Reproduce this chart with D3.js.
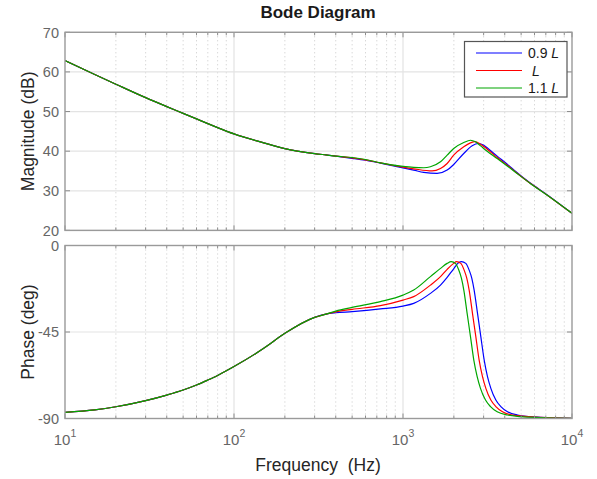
<!DOCTYPE html>
<html>
<head>
<meta charset="utf-8">
<script src="https://cdn.jsdelivr.net/npm/d3@7"></script>
<style>
  body { margin: 0; background: #fff; }
  text { font-family: "Liberation Sans", Arial, sans-serif; }
</style>
</head>
<body>
<svg id="chart" width="597" height="479"></svg>
<script>
// shared low-frequency part (the three curves overlap there)
var freqLow  = [10, 15, 20, 30, 40, 50, 60, 70, 80, 100, 150, 200, 300, 350];
var magLow   = [62.85, 59.35, 56.9, 53.5, 51.25, 49.55, 48.15, 46.95, 45.95, 44.35, 42.1, 40.65, 39.4, 39.05];
var phaseLow = [-86.8, -85.5, -83.9, -80.7, -77.8, -75.2, -72.6, -70, -67.6, -63, -53.5, -45.7, -37.4, -35.7];

// magnitude, per series
var magFreqBlue  = [400, 500, 600, 735, 1000, 1157, 1327, 1592, 1825, 1995, 2288, 2566, 2786, 3008, 3148, 3608, 4137, 4529, 5689, 7145, 10000];
var magBlue      = [38.75, 38.2, 37.7, 36.98, 35.8, 35.22, 34.63, 34.38, 35.22, 36.64, 39.41, 41.34, 41.93, 41.51, 40.84, 38.74, 36.7, 35.25, 31.88, 28.95, 24.3];
var magFreqRed   = [400, 500, 600, 735, 1000, 1157, 1487, 1667, 1825, 1995, 2288, 2507, 2660, 2877, 3148, 3608, 4137, 4529, 5689, 7145, 10000];
var magRed       = [38.75, 38.3, 37.8, 37.06, 35.97, 35.55, 35.0, 35.64, 36.89, 38.99, 41.09, 42.09, 42.43, 41.76, 40.5, 38.4, 36.45, 35.1, 31.82, 28.9, 24.3];
var magFreqGreen = [400, 500, 600, 735, 1000, 1157, 1327, 1453, 1667, 1825, 1995, 2288, 2507, 2686, 2877, 3148, 3608, 4137, 4529, 5689, 7145, 10000];
var magGreen     = [38.75, 38.4, 37.9, 37.06, 36.14, 35.89, 35.81, 36.06, 37.31, 38.99, 40.67, 42.18, 42.76, 42.35, 41.34, 40.0, 38.15, 36.25, 34.99, 31.8, 28.85, 24.3];

// phase, per series
var phFreqBlue  = [400, 500, 735, 1000, 1157, 1453, 1667, 1825, 1995, 2139, 2218, 2353, 2463, 2554, 2636, 2760, 2887, 3023, 3162, 3310, 3543, 3793, 4155, 4763, 6511, 10000];
var phaseBlue   = [-35.0, -34.4, -33.0, -31.5, -30.1, -24.9, -20.6, -16.6, -12.1, -8.9, -8.4, -9.3, -12.8, -17.1, -23.2, -35.3, -47.4, -59.6, -68.2, -74.3, -80.4, -83.8, -86.5, -88.2, -89.4, -89.9];
var phFreqRed   = [400, 500, 735, 1000, 1157, 1453, 1667, 1825, 1995, 2072, 2198, 2301, 2386, 2463, 2577, 2697, 2822, 2954, 3092, 3310, 3543, 3880, 4449, 6511, 10000];
var phaseRed    = [-34.5, -33.2, -31.3, -28.4, -26.6, -20.6, -16.2, -12.4, -9.3, -8.4, -9.3, -12.8, -17.1, -23.2, -35.3, -47.4, -59.6, -68.2, -74.3, -80.4, -83.8, -86.5, -88.2, -89.4, -89.9];
var phFreqGreen = [400, 500, 735, 1000, 1157, 1453, 1667, 1825, 1927, 2044, 2139, 2218, 2290, 2396, 2508, 2624, 2747, 2874, 3078, 3295, 3608, 4136, 4959, 6511, 10000];
var phaseGreen  = [-34.1, -32.2, -29.2, -25.8, -23.2, -16.2, -11.9, -9.3, -8.4, -9.3, -12.8, -17.1, -23.2, -35.3, -47.4, -59.6, -68.2, -74.3, -80.4, -83.8, -86.5, -88.2, -89.0, -89.5, -89.9];

var seriesNames  = ["0.9 ", " ", "1.1 "];   // followed by italic L
var seriesColors = ["#0000ff", "#ff0000", "#00a600"];
var magTicks   = [20, 30, 40, 50, 60, 70];
var phaseTicks = [-90, -45, 0];
var decades    = [10, 100, 1000, 10000];

function pairs(fa, va) { return fa.map(function(f, i){ return [f, va[i]]; }); }
var lowMag = pairs(freqLow, magLow), lowPh = pairs(freqLow, phaseLow);
var magSeries = [
  lowMag.concat(pairs(magFreqBlue, magBlue)),
  lowMag.concat(pairs(magFreqRed, magRed)),
  lowMag.concat(pairs(magFreqGreen, magGreen))
];
var phSeries = [
  lowPh.concat(pairs(phFreqBlue, phaseBlue)),
  lowPh.concat(pairs(phFreqRed, phaseRed)),
  lowPh.concat(pairs(phFreqGreen, phaseGreen))
];

var svg = d3.select("#chart");
svg.append("rect").attr("width", 597).attr("height", 479).attr("fill", "#fff");

var x = d3.scaleLog().domain([10, 10000]).range([65, 572]);
var yMag = d3.scaleLinear().domain([20, 70]).range([230.4, 32.3]);
var yPh  = d3.scaleLinear().domain([-90, 0]).range([418.5, 245.5]);

var minor = [];
decades.slice(0, 3).forEach(function(d){ for (var m = 2; m <= 9; m++) minor.push(d * m); });

function panel(y, ticks, series, id) {
  var g = svg.append("g");
  var x0 = x.range()[0], x1 = x.range()[1];
  var yTop = y.range()[1], yBot = y.range()[0];

  g.selectAll(".minor").data(minor).enter().append("line")
    .attr("x1", function(d){ return x(d); }).attr("x2", function(d){ return x(d); })
    .attr("y1", yTop).attr("y2", yBot)
    .attr("stroke", "#c8c8c8").attr("stroke-width", 1).attr("stroke-dasharray", "1,3");
  g.selectAll(".vgrid").data([100, 1000]).enter().append("line")
    .attr("x1", function(d){ return x(d); }).attr("x2", function(d){ return x(d); })
    .attr("y1", yTop).attr("y2", yBot)
    .attr("stroke", "#e3e3e3").attr("stroke-width", 1.2);
  g.selectAll(".hgrid").data(ticks).enter().append("line")
    .attr("x1", x0).attr("x2", x1)
    .attr("y1", function(d){ return y(d); }).attr("y2", function(d){ return y(d); })
    .attr("stroke", "#e3e3e3").attr("stroke-width", 1.2);

  g.append("clipPath").attr("id", id).append("rect")
    .attr("x", x0).attr("y", yTop).attr("width", x1 - x0).attr("height", yBot - yTop);

  var line = d3.line()
    .x(function(d){ return x(d[0]); })
    .y(function(d){ return y(d[1]); })
    .curve(d3.curveMonotoneX);
  g.append("g").attr("clip-path", "url(#" + id + ")")
    .selectAll("path").data(series).enter().append("path")
    .attr("d", line)
    .attr("fill", "none")
    .attr("stroke", function(d, i){ return seriesColors[i]; })
    .attr("stroke-width", 1.2);

  // ticks inside the box
  var tk = g.append("g").attr("stroke", "#8c8c8c").attr("stroke-width", 1);
  ticks.forEach(function(t){
    tk.append("line").attr("x1", x0).attr("x2", x0 + 5).attr("y1", y(t)).attr("y2", y(t));
    tk.append("line").attr("x1", x1).attr("x2", x1 - 5).attr("y1", y(t)).attr("y2", y(t));
  });
  decades.forEach(function(d){
    tk.append("line").attr("x1", x(d)).attr("x2", x(d)).attr("y1", yBot).attr("y2", yBot - 5);
    tk.append("line").attr("x1", x(d)).attr("x2", x(d)).attr("y1", yTop).attr("y2", yTop + 5);
  });
  minor.forEach(function(d){
    tk.append("line").attr("x1", x(d)).attr("x2", x(d)).attr("y1", yBot).attr("y2", yBot - 3);
    tk.append("line").attr("x1", x(d)).attr("x2", x(d)).attr("y1", yTop).attr("y2", yTop + 3);
  });

  g.append("rect").attr("x", x0).attr("y", yTop)
    .attr("width", x1 - x0).attr("height", yBot - yTop)
    .attr("fill", "none").attr("stroke", "#9a9a9a").attr("stroke-width", 1.4);

  g.selectAll(".ylab").data(ticks).enter().append("text")
    .attr("x", x0 - 6).attr("y", function(d){ return y(d); })
    .attr("dy", "0.36em")
    .attr("text-anchor", "end")
    .attr("fill", "#666")
    .style("font-size", "14.5px")
    .text(function(d){ return d; });
  return g;
}

panel(yMag, magTicks, magSeries, "clipMag");
panel(yPh, phaseTicks, phSeries, "clipPh");

// x tick labels 10^k
decades.forEach(function(d){
  var t = svg.append("text")
    .attr("x", x(d)).attr("y", 445)
    .attr("text-anchor", "middle")
    .attr("fill", "#666")
    .style("font-size", "15px");
  t.append("tspan").text("10");
  t.append("tspan").attr("dy", -8).style("font-size", "10.5px")
    .text(Math.round(Math.log10(d)));
});

svg.append("text")
  .attr("x", 318).attr("y", 18)
  .attr("text-anchor", "middle")
  .attr("fill", "#1a1a1a")
  .style("font-size", "17px").style("font-weight", "bold")
  .text("Bode Diagram");

svg.append("text")
  .attr("x", 318).attr("y", 471)
  .attr("text-anchor", "middle")
  .attr("fill", "#262626")
  .style("font-size", "17.5px")
  .style("white-space", "pre")
  .text("Frequency  (Hz)");

svg.append("text")
  .attr("transform", "translate(34," + ((yMag.range()[0] + yMag.range()[1]) / 2) + ") rotate(-90)")
  .attr("text-anchor", "middle")
  .attr("fill", "#262626")
  .style("font-size", "17.5px")
  .text("Magnitude (dB)");

svg.append("text")
  .attr("transform", "translate(34," + ((yPh.range()[0] + yPh.range()[1]) / 2) + ") rotate(-90)")
  .attr("text-anchor", "middle")
  .attr("fill", "#262626")
  .style("font-size", "17.5px")
  .text("Phase (deg)");

// legend
var lg = svg.append("g");
lg.append("rect").attr("x", 464.5).attr("y", 41.5).attr("width", 102.5).attr("height", 55.5)
  .attr("fill", "#fff").attr("stroke", "#555").attr("stroke-width", 1.2);
seriesNames.forEach(function(name, i){
  var yy = 53 + i * 17.5;
  lg.append("line").attr("x1", 476).attr("x2", 522).attr("y1", yy).attr("y2", yy)
    .attr("stroke", seriesColors[i]).attr("stroke-width", 1.2);
  var t = lg.append("text").attr("x", 528).attr("y", yy).attr("dy", "0.36em")
    .attr("fill", "#1a1a1a").style("font-size", "14px").style("white-space", "pre");
  t.append("tspan").text(name);
  t.append("tspan").style("font-style", "italic").text("L");
});
</script>
</body>
</html>
